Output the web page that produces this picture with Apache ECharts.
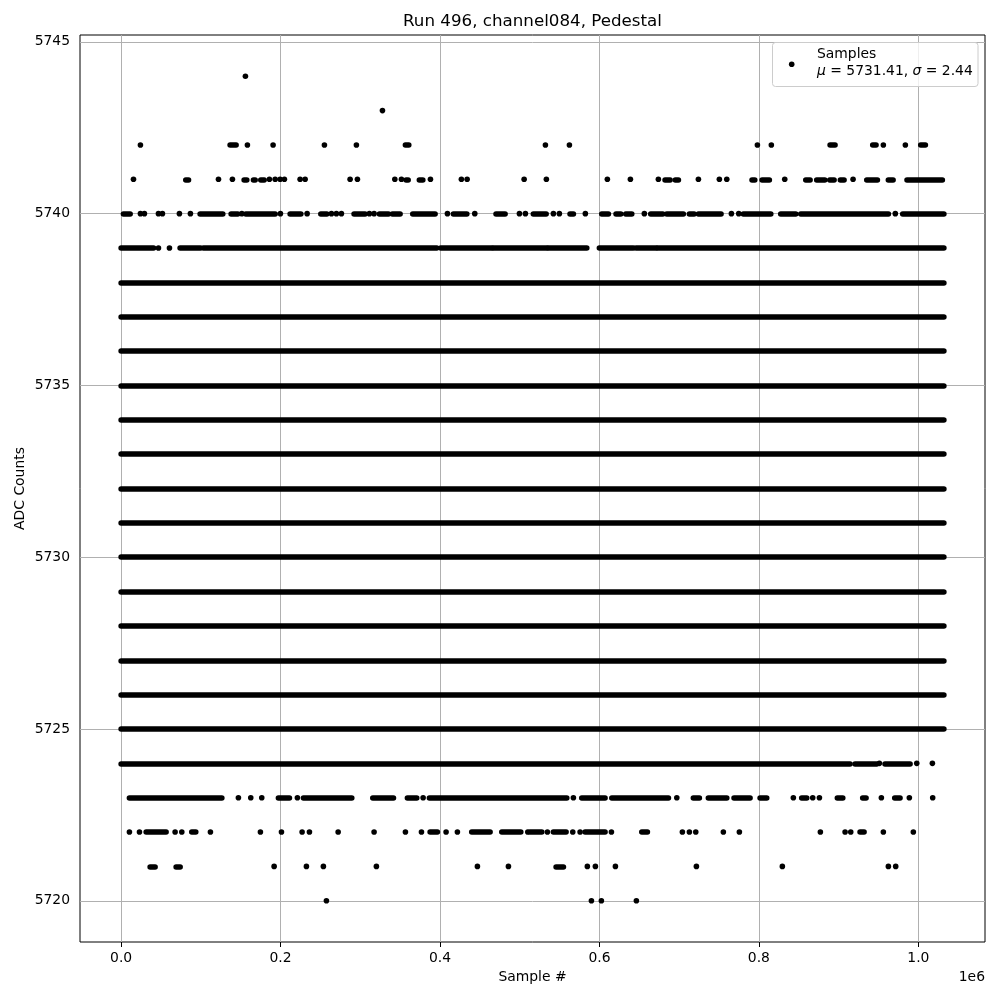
<!DOCTYPE html>
<html><head><meta charset="utf-8">
<script src="https://cdn.jsdelivr.net/npm/echarts@6/dist/echarts.min.js"></script>
<style>html,body{margin:0;padding:0;background:#fff}#c{width:1000px;height:1000px}</style>
</head><body><div id="c"></div>
<script>
// ---- data (sample index, ADC counts) ----
const titleText = 'Run 496, channel084, Pedestal';
const xName = 'Sample #';
const yName = 'ADC Counts';
const legendName = 'Samples';
const meanValue = 5731.41;
const sigmaValue = 2.44;
const xTicks = [0, 200000, 400000, 600000, 800000, 1000000];
const yTicks = [5720, 5725, 5730, 5735, 5740, 5745];
const firstSample = 0;
const lastSample = 1032000;
// rows where samples cover the whole run
const fullRows = [5725, 5726, 5727, 5728, 5729, 5730, 5731, 5732, 5733, 5734, 5735, 5736, 5737, 5738];
// partial rows: number = single sample, [a,b] = run of adjacent samples
const row5744 = [155900];
const row5743 = [327800];
const row5742 = [24200, [136700,144200], 158400, 190600, 255000, 295100, [356600,360800], 532200, 562300,
  798100, 815600, [889300,895500], [942800,946900], 956100, 983700, [1003000,1008800]];
const row5741 = [15500, [81100,84500], 122100, 139600, [154300,157600], [166000,168100], [175200,179400], 186000,
  193200, 199400, 204800, 224500, 230800, 287200, 296400, 343300, 351600, [357500,360000], [374100,378400], 388000,
  426800, 434000, 505500, 533400, 609900, 638800, 673900, [682300,688600], [695200,699000], 724100, 750400, 759700,
  [791400,794800], [804000,813100], 832400, [858800,864200], [872500,882600], [888900,894300], [902200,906800],
  918100, [935300,948600], [962400,968300], [985800,1030100]];
const row5740 = [[2900,11300], 24200, 29200, 46800, 51800, 73100, 86900, [99100,127500], [138000,146300], 151400,
  [156400,193200], 199800, [212000,225400], 233300, [250500,258000], 263800, 270000, 276300, [292200,306000], 311400,
  317300, [324000,335300], [340300,349900], [365800,393800], 409300, [416800,433600], 443600, [470300,481600], 499600,
  507100, [517100,533100], 542200, 549700, [563100,567300], 582300, [602900,611200], [620800,626700], [633000,640500],
  656300, [664300,679400], [684400,705200], [712800,718700], [724100,752500], 765500, 774700, [780500,814900],
  [827400,846200], [852500,962400], 971100, [980400,1032000]];
const row5739 = [[0,40700], 46800, 60600, [74000,99500], [103200,395900], [401000,464900], [467000,533900],
  [535900,584100], [599900,642500], [645900,671000], [673100,1032000]];
const row5724 = [[0,914300], [920600,947800], 951100, [958200,989600], 998000, 1017600];
const row5723 = [[10400,126300], 147100, 162600, 176400, [197300,211100], 221100, [228700,289300], [315700,341600],
  [359100,370800], 378800, [386700,559000], 567300, [577800,607000], [615500,686500], 697000, [717800,725300],
  [736600,759700], [768800,788900], [801500,809800], 843200, [853700,860000], 867500, 875900, [898400,905200],
  [930200,934400], 953600, [970400,977000], 988700, 1018000];
const row5722 = [10400, 23000, [31400,56400], 67700, 76100, [88600,93600], 112000, 174700, 201100, 227000, 236200,
  272200, 317300, 356600, 376700, [387600,396700], 407600, 421800, [439800,462800], [477500,501300], 510100,
  [513000,527600], 534700, [542200,558100], 566500, 575700, [582000,607000], 615000, [653100,660100], 704000, 712800,
  720800, 755400, 775500, 877100, 908100, 915200, [926900,931900], 956100, 993700];
const row5721 = [[36400,42600], [69000,74000], 191900, 232400, 253700, 320200, 446900, 485800, [545600,554800],
  584800, 594900, 620000, 721600, 829400, 962400, 971600];
const row5720 = [257500, 589900, 602400, 646300];

const partialRows = [[5744,row5744],[5743,row5743],[5742,row5742],[5741,row5741],[5740,row5740],[5739,row5739],
  [5724,row5724],[5723,row5723],[5722,row5722],[5721,row5721],[5720,row5720]];

// ---- build ----
const singles = [];
const runs = [];
fullRows.forEach(y => runs.push({coords: [[firstSample, y], [lastSample, y]]}));
partialRows.forEach(([y, items]) => items.forEach(it => {
  if (Array.isArray(it)) runs.push({coords: [[it[0], y], [it[1], y]]});
  else singles.push([it, y]);
}));
const allY = fullRows.concat(partialRows.map(r => r[0]));
const yLo = Math.min(...allY), yHi = Math.max(...allY);
const xMin = firstSample - 0.05 * (lastSample - firstSample);
const xMax = lastSample + 0.05 * (lastSample - firstSample);
const yMin = yLo - 0.05 * (yHi - yLo);
const yMax = yHi + 0.05 * (yHi - yLo);

const gridLines = [];
xTicks.forEach(x => gridLines.push({coords: [[x, yMin], [x, yMax]]}));
yTicks.forEach(y => gridLines.push({coords: [[xMin, y], [xMax, y]]}));

const FONT = 'DejaVu Sans';
const FS = 13.9;
const DOT = 5.6;

const chart = echarts.init(document.getElementById('c'), null, {renderer: 'canvas'});
chart.setOption({
  animation: false,
  backgroundColor: '#fff',
  grid: {left: 80, right: 15, top: 35, bottom: 58, show: true, borderColor: '#000', borderWidth: 1, backgroundColor: 'transparent'},
  xAxis: {
    type: 'value', min: xMin, max: xMax,
    axisLine: {show: false},
    splitLine: {show: false},
    axisTick: {show: true, customValues: xTicks, length: 5, lineStyle: {color: '#000', width: 1}},
    axisLabel: {customValues: xTicks, margin: 9, color: '#000', fontFamily: FONT, fontSize: FS,
      formatter: v => (v / 1e6).toFixed(1)},
    name: xName, nameLocation: 'middle', nameGap: 28, nameMoveOverlap: false,
    nameTextStyle: {color: '#000', fontFamily: FONT, fontSize: FS}
  },
  yAxis: {
    type: 'value', min: yMin, max: yMax,
    axisLine: {show: false},
    splitLine: {show: false},
    axisTick: {show: true, customValues: yTicks, length: 5, lineStyle: {color: '#000', width: 1}},
    axisLabel: {customValues: yTicks, margin: 10, color: '#000', fontFamily: FONT, fontSize: FS,
      formatter: v => String(Math.round(v))},
    name: yName, nameLocation: 'middle', nameGap: 53, nameMoveOverlap: false,
    nameTextStyle: {color: '#000', fontFamily: FONT, fontSize: FS}
  },
  series: [
    {type: 'lines', coordinateSystem: 'cartesian2d', silent: true, z: 1, data: gridLines,
     lineStyle: {color: '#b0b0b0', width: 1, opacity: 1, curveness: 0}},
    {type: 'lines', coordinateSystem: 'cartesian2d', silent: true, z: 3, data: runs,
     lineStyle: {color: '#000', width: DOT, opacity: 1, cap: 'round', curveness: 0}},
    {type: 'scatter', name: legendName, silent: true, z: 3, data: singles, symbol: 'circle', symbolSize: DOT,
     itemStyle: {color: '#000', opacity: 1}}
  ],
  graphic: [
    {type: 'text', x: 532.5, y: 22, z: 100, style: {text: titleText, fill: '#000', fontFamily: FONT, fontSize: 16.7,
      align: 'center', verticalAlign: 'middle'}},
    {type: 'text', x: 985, y: 977, z: 100, style: {text: '1e6', fill: '#000', fontFamily: FONT, fontSize: FS,
      align: 'right', verticalAlign: 'middle'}},
    {type: 'rect', z: 100, shape: {x: 772.5, y: 42.5, width: 205.5, height: 44, r: 3},
      style: {fill: 'rgba(255,255,255,0.8)', stroke: '#cccccc', lineWidth: 1}},
    {type: 'circle', z: 101, shape: {cx: 791.7, cy: 64.3, r: DOT / 2}, style: {fill: '#000'}},
    {type: 'text', x: 817, y: 54, z: 101, style: {text: legendName, fill: '#000', fontFamily: FONT, fontSize: FS,
      verticalAlign: 'middle'}},
    {type: 'text', x: 817, y: 71.5, z: 101, style: {
      text: '{i|μ} = ' + meanValue.toFixed(2) + ', {i|σ} = ' + sigmaValue.toFixed(2),
      fill: '#000', fontFamily: FONT, fontSize: FS, verticalAlign: 'middle',
      rich: {i: {fontStyle: 'italic', fontFamily: FONT, fontSize: FS, fill: '#000'}}}}
  ]
});
</script></body></html>
